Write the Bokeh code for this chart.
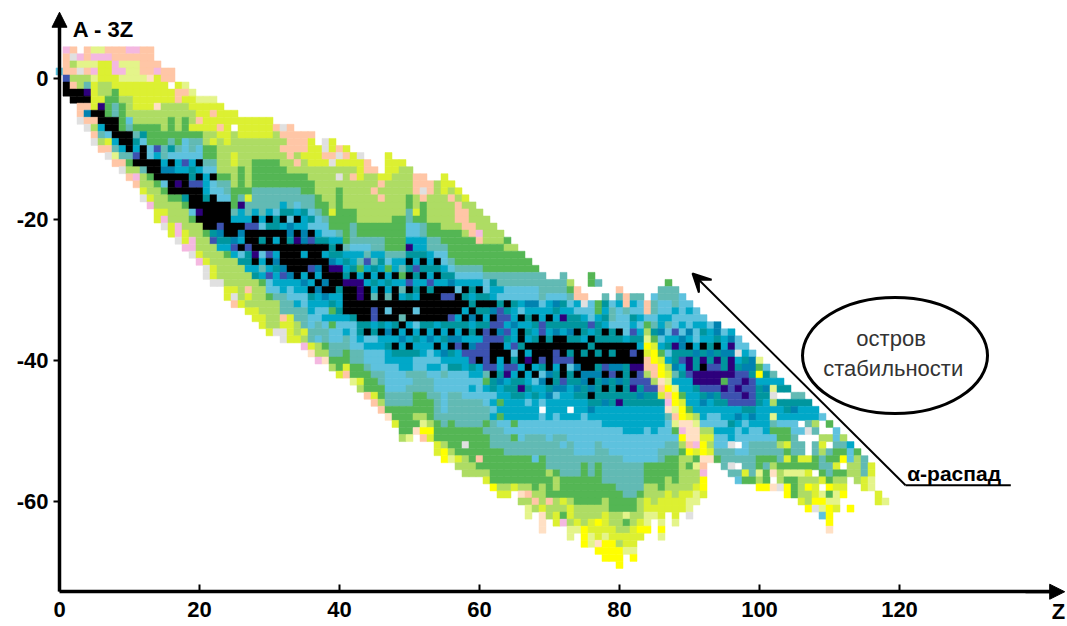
import re
from bokeh.plotting import figure
from bokeh.models import LinearAxis, FixedTicker, Arrow, VeeHead, NormalHead, ColumnDataSource, Range1d, Label
from bokeh.embed import file_html
from bokeh.resources import INLINE

STATE_COLOURS = {"p": "#FFC6A6", "i": "#F4B8E0", "e": "#FFE0C4", "a": "#E0E0E0", "y": "#FFFF00",
                 "z": "#DCF032", "l": "#E4F48A", "L": "#AEDC64", "G": "#54B654", "T": "#62BAB4",
                 "B": "#5EC2DE", "C": "#00A8C8", "D": "#00969E", "U": "#0082B0", "N": "#3C52B0",
                 "V": "#2E007C", "K": "#000000"}

X_TICKS = [0, 20, 40, 60, 80, 100, 120]
Y_TICKS = [0, -20, -40, -60]

# Each string lists one Z column of nuclides: @N = row A-3Z, letter+count = state of successive rows downward
runs_z00_20 = [
 "@1 B",
 "@4 i p3 N K2",
 "@4 p a L p L p K2",
 "@3 i l a L2 K2 p2 a",
 "@4 p2 l p L T V K p U p a",
 "@4 l i l i l z4 K p L p a",
 "@4 l i z3 L2 z V K2 C T L p",
 "@4 p i z3 L2 G3 K2 B z p a",
 "@4 p2 i2 z2 G2 T2 K3 C T l p",
 "@4 p2 l i l z2 L G4 K2 C T p a",
 "@4 i p l3 z2 L3 B T K3 T G L p",
 "@4 i p l3 z4 L2 G T D C N K L i p",
 "@4 p4 l z4 L2 G D B K3 T L2 z a",
 "@4 p4 e z4 L2 G3 B2 K2 G L2 z i",
 "@2 p i z4 e L2 G3 N C K3 G L3 z2",
 "@1 p2 z3 L4 G2 T2 C U K B G L2 z i a",
 "@1 p2 W z2 L2 G3 T D B K U K3 G L3 z2",
 "@-1 z p2 L4 G2 T B C2 K V K G L3 i2 a",
 "@-1 l p z L2 G3 B3 N C K3 D G L3 z2 i",
 "@-2 l z2 L2 z G T2 B C D2 N K3 B G L2 i2 a",
 "@-3 l z2 p z G T B2 K C K N K3 V K L4 z i",
]
runs_z21_40 = [
 "@-3 l z4 L2 G2 T B C3 D K4 G L3 z a2",
 "@-3 l z p z2 L z G2 T B K B2 K5 D N L3 z2 a",
 "@-4 z3 p z L5 G T B2 K3 N U D C L4 a",
 "@-5 z5 L4 G T2 B K5 D C G L4 z2",
 "@-5 z2 W L3 z2 L3 G3 T C K2 U N C L4 z a p",
 "@-6 z3 L4 G4 T V C2 K U C K B D L5 z",
 "@-6 z3 L7 G z T2 C N K2 N D2 C L2 p z L z",
 "@-6 z3 L3 G4 T3 C K N K3 V K C D L4 z2",
 "@-6 z3 L3 G4 T4 C B K D K B C T C G L4 z2",
 "@-6 z3 L3 G4 T3 C K D K3 N K C N B2 G L4 z",
 "@-7 p L4 G4 T3 B D2 K C K C U D C2 B T L4 a",
 "@-7 a p L p L2 G3 T2 C D K C K5 U N C2 T3 p z a2",
 "@-7 p5 L2 G2 T3 D B U2 D K4 U C B2 T2 z4",
 "@-8 p3 L p L G2 T2 B C K C K V K5 C2 B C T2 L2 z",
 "@-8 p3 z L2 G3 T2 D C2 U2 K C K2 C U C B2 T3 z L i",
 "@-8 p z4 L2 G2 T2 B D B K N K3 N K C K D C2 B2 T2 z e",
 "@-10 z3 L4 G2 T B2 C D K3 U C K U C2 B2 T2 B L2 i",
 "@-9 a2 p z L5 G2 T B2 D K C K3 U K U C B C B T2 G L e",
 "@-9 z2 p a L6 z G2 B C D2 U V K3 C D G C G B2 T2 G L",
 "@-10 p a z L a L G6 T C K D C V K2 D C2 D C B3 T2 G2 z",
]
runs_z41_60 = [
 "@-10 z p z L6 G5 T C D C D V K4 C B C T2 G2 z p",
 "@-11 z2 L p L4 G2 T3 B C2 D K V K4 D B4 T2 G2 l",
 "@-11 a z3 L6 G2 T B C T G C V3 K3 D2 C B T2 G2 z L",
 "@-12 p2 L7 G2 T B T N C K C K5 D K B C B2 T G3 p",
 "@-13 p L2 p L4 G2 T2 C T D C D C T K N2 C D B C B3 T G2 z p",
 "@-14 z p L p L3 G2 T2 C D C K C K5 D K C2 B3 T2 G2 L p",
 "@-11 z4 L6 G4 T B G C D C T K B K C U C D C2 B4 T2 G e",
 "@-12 z2 L6 G5 T C2 K C K5 D K C K D C B4 T2 G2 z",
 "@-12 z L7 G5 T C T G C T C K2 T K C U C D C2 B3 T2 G4 L",
 "@-13 L4 G2 T2 B2 C V D K D K N K D K3 C K C K D C2 T B T3 G4 l",
 "@-14 p3 L2 z G B2 C2 D C N D C D C K B K B C D C D B2 T3 G3 L G e",
 "@-14 p2 a p G3 T2 C2 D K D K C K5 D K C3 B2 T3 G3 L l y p",
 "@-15 p2 L4 G2 T2 C2 D C N D K4 D C U C B2 C B T3 G3 L y z",
 "@-15 L6 G2 T2 B K D K C K5 C K C K C B C B3 T4 G3 z2",
 "@-14 z3 L5 G2 T B2 C D C K N K3 D C D C U C B T B5 T2 G2 L y2",
 "@-15 z L p L4 G4 T B D U K N K2 N D K U K D C D B3 T4 G4 L l",
 "@-16 z L p3 L G5 T B C B K3 C D C U N C2 D B3 T5 G4 z L",
 "@-17 z L p3 L G4 T B C K D K C K D K C K N C2 B4 T4 G2 a G L3",
 "@-18 L3 p2 G4 T B C D C D K U C D C U N2 D C B C B T4 G5 L2",
 "@-19 L3 i p G3 T B C K D K D K D K C N2 K C2 B3 T4 G4 p G L",
]
runs_z61_80 = [
 "@-20 L4 G4 T B2 D K D C D N6 T G C B2 T2 G T G5 L z",
 "@-21 L3 G4 T D C2 K U K N K N K3 N K D2 B C B C T4 G5 y",
 "@-22 L2 G4 T2 C B D N3 U N K2 C2 D U C2 G C G B T3 G5 L z",
 "@-23 G L G3 T2 B2 K D N C N D C K2 N V C D C4 B2 T3 G4 L z",
 "@-24 L G3 T2 B2 D C2 U C2 N B D N C D3 C3 G B G T2 G4 z",
 "@-25 G3 T2 B2 C B K C K2 D K2 C K D V D C2 @-48 C B3 T2 G4 L e L",
 "@-26 G2 T2 B2 U C D C D C K C V K C2 D C B C @-48 C B2 T3 G4 L p L l2",
 "@-27 G T2 B2 U C K D C D K3 C K B C D C2 @-48 C B2 T3 B G4 L p L",
 "@-28 T4 B C2 N2 K3 N D B U C2 B @-48 B3 T3 G4 L3 z e3",
 "@-29 T2 B C2 K D C D K4 U K D U C3 @-48 C B3 T4 L G3 p L2",
 "@-29 T2 B U D C D U K2 N2 C D2 U B C2 @-48 B3 T5 G L2 G L2 z2",
 "@-28 T3 B D C V D C K3 N K2 N U C3 @-48 C B2 T B T4 G3 z L G i",
 "@-29 L G T B C D2 U D K D N B D2 C3 @-48 C B3 T5 G3 L z2 L l2",
 "@-30 p2 C B D2 K D K3 U K D U D C2 @-48 C B5 T3 G4 L2 z l",
 "@-31 p a B C D2 C K D K2 U2 D2 C2 @-48 B6 T G6 L3 y3",
 "@-28 G2 W2 B3 N C K D K3 U K U K D U C @-48 C B5 T3 G4 L2 z2 l2",
 "@-29 T W2 G2 C D3 K D K D U D4 C @-48 C B3 T3 G6 L2 y z2 e y",
 "@-31 T D C D C K D K3 N K U K D U C @-48 C2 B3 T5 G2 L2 z3 l y3",
 "@-32 B T2 B D2 K D K U N D4 C @-48 C2 B4 T4 G4 L2 z2 y3",
 "@-30 p T C B3 K D K3 U K U K D V C @-48 C2 B4 T5 G3 L3 z L y3",
]
runs_z81_100 = [
 "@-31 p2 T B3 C K3 D6 C @-48 C3 B4 T5 G2 l G L z2 l",
 "@-31 T C B D C N D K N K V K N V D2 C @-48 C3 B4 T5 G2 L2 z3 l y",
 "@-31 T B2 C B C D C K2 V N2 D U D C @-48 C3 B4 T4 G L3 z y z",
 "@-32 p2 B G L l y z p2 L N2 D2 C3 B5 G3 L2 z2 l2 y",
 "@-31 B T2 B T D G z y2 p2 L N D2 C4 B4 G3 L3 z l",
 "@-30 T2 B2 C2 U B C G z y2 e p z D C3 B3 T2 G4 L z3 l y l",
 "@-29 G T2 B2 C T B C D B C L z l y p i e T B3 T2 G3 L2 z3",
 "@-30 T3 C B2 N C V D2 U T C l y2 l p l G B T2 G4 L2 z3 l",
 "@-31 B4 C B U2 D N C D C2 G z y2 e i y L G L5 z3",
 "@-32 B C B2 U C K D V2 N C4 G z e3 p y L G L3 z l2 a",
 "@-33 B2 C B2 C U D2 V2 D C3 L l e2 i z G l L2 z l2",
 "@-34 B C D C K D V K V2 N D U C2 B L z y2 e p i y2 z",
 "@-35 B C2 D U D N V2 N U C2 B2 L z L z e",
 "@-35 U2 D K D V N V2 N D2 C B2 C B2 T G",
 "@-36 B C2 U D2 V G V N D C2 B C B2 T3",
 "@-36 C U V U V3 N4 C2 D C2 a T2 a T",
 "@-37 B2 a C D N2 V N2 C U C B2 W B T W T B",
 "@-38 B C D U N V N V N D C B C B3 T2 z G",
 "@-39 B U2 D N4 D U C B2 T5 G",
 "@-40 l G y C D3 C3 B2 T2 G2 l L y",
]
runs_z101_118 = [
 "@-41 B D C U D C5 B T2 G T G2 y",
 "@-42 T C l a L C l T G B T2 G L e W e",
 "@-43 C D W D C2 B G2 L T2 G L2 a",
 "@-44 D W D2 C B G2 z G z G l G y2",
 "@-45 T D U C B2 T3 G2 l G3",
 "@-45 T D C2 W B W T2 z G l L3 z",
 "@-46 D C2 T a W3 z G z L y L2 y",
 "@-47 C2 L T W T2 G2 W L z2 y a",
 "@-48 B W2 L z L T2 G z W l y l B",
 "@-49 G W L W T G T2 G y G l y3 e",
 "@-50 B2 T G2 z G L z l2 z",
 "@-51 L T G y W G L z y",
 "@-52 C B2 L2 @-61 y",
 "@-53 G L4",
 "@-54 T3 z2",
 "@-55 z2 l2",
 "@-59 z2",
 "@-60 l",
]

z_vals, n_vals, colours = [], [], []
z = 0
for group in (runs_z00_20, runs_z21_40, runs_z41_60, runs_z61_80, runs_z81_100, runs_z101_118):
    for col in group:
        row = 0
        for tok in col.split():
            if tok[0] == "@":
                row = int(tok[1:])
                continue
            m = re.fullmatch(r"([A-Za-z])(\d*)", tok)
            for _ in range(int(m.group(2) or 1)):
                if m.group(1) != "W":
                    z_vals.append(z)
                    n_vals.append(row)
                    colours.append(STATE_COLOURS[m.group(1)])
                row -= 1
        z += 1

W, H = 1067, 626
p = figure(width=W, height=H, output_backend="svg", toolbar_location=None,
           x_range=Range1d(-59 / 7, (W - 59) / 7), y_range=Range1d((78 - H) / 7.05, 78 / 7.05),
           x_axis_location=None, y_axis_location=None, min_border=0)
p.grid.visible = False
p.outline_line_color = None
p.background_fill_color = "white"

src = ColumnDataSource(dict(z=z_vals, n=n_vals, c=colours))
p.rect("z", "n", width=1, height=1, source=src, fill_color="c", line_color="c", line_width=0.5)

FONT = "Liberation Sans"
xax = LinearAxis(ticker=FixedTicker(ticks=X_TICKS), fixed_location=-72.8, bounds=(0, 142))
yax = LinearAxis(ticker=FixedTicker(ticks=Y_TICKS), fixed_location=0, bounds=(-72.8, 8),
                 major_label_overrides={t: str(t) for t in Y_TICKS})
for ax in (xax, yax):
    ax.axis_line_width = 3.5
    ax.axis_line_color = "black"
    ax.major_tick_line_color = "black"
    ax.major_tick_line_width = 2
    ax.minor_tick_line_color = None
    ax.major_label_text_font = FONT
    ax.major_label_text_font_style = "bold"
    ax.major_label_text_font_size = "22px"
    ax.major_label_text_color = "black"
xax.major_tick_in, xax.major_tick_out = 7, 0
yax.major_tick_in, yax.major_tick_out = 0, 6
xax.major_label_standoff = 10
yax.major_label_standoff = 5
p.add_layout(xax, "below")
p.add_layout(yax, "left")

head = dict(fill_color="black", line_color="black")
p.add_layout(Arrow(end=NormalHead(size=15, **head), x_start=0, y_start=6, x_end=0, y_end=9.4, line_width=3))
p.add_layout(Arrow(end=NormalHead(size=15, **head), x_start=138, y_start=-72.8, x_end=143.6, y_end=-72.8, line_width=3))

# alpha-decay arrow and island-of-stability callout
p.add_layout(Arrow(end=VeeHead(size=18, line_color="black", line_width=2, fill_color="black"),
                   x_start=120.86, y_start=-57.7, x_end=90.43, y_end=-27.66, line_width=2))
p.line([120.86, 135.9], [-57.7, -57.7], line_color="black", line_width=2)
p.ellipse([119.36], [-39.3], width=26.43, height=16.45, fill_color="white", line_color="black", line_width=3)

def label(x, y, text, size, bold=False, align="center", color="black"):
    p.add_layout(Label(x=x, y=y, text=text, text_font=FONT, text_font_size=size, text_color=color,
                       text_font_style="bold" if bold else "normal", text_align=align, text_baseline="middle"))

label(1.9, 7.0, "A - 3Z", "22px", True, "left")
label(142.7, -75.6, "Z", "22px", True)
label(118.8, -36.9, "остров", "22px", False, "center", "#333333")
label(119.1, -41.1, "стабильности", "22px", False, "center", "#333333")
label(121.1, -56.0, "α-распад", "21px", True, "left")

open("out.html", "w").write(file_html(p, INLINE))
